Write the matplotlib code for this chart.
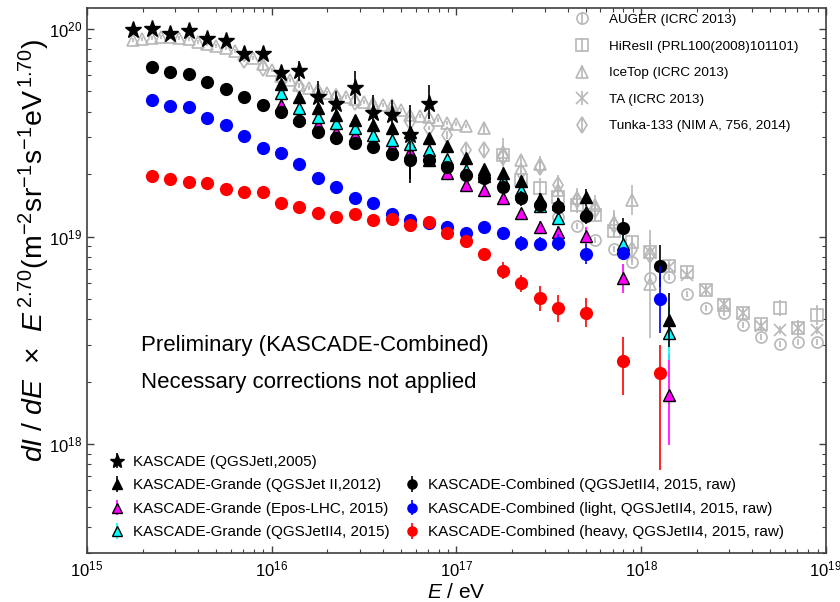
import numpy as np
import matplotlib.pyplot as plt

plt.rcParams['font.family'] = ['Liberation Sans', 'DejaVu Sans']
plt.rcParams['mathtext.fontset'] = 'custom'
plt.rcParams['mathtext.rm'] = 'Liberation Sans'
plt.rcParams['mathtext.it'] = 'Liberation Sans:italic'
plt.rcParams['mathtext.bf'] = 'Liberation Sans:bold'

# all values are log10(E/eV) and log10(dI/dE * E^2.70)
# --- gray reference measurements ---
icetop_lgE = list(np.round(np.arange(15.25, 17.06, 0.05), 2)) + [17.15, 17.25, 17.35, 17.45, 17.55, 17.65, 17.75, 17.85, 17.95, 18.05]
icetop_lgF = [19.947, 19.952, 19.957, 19.961, 19.961, 19.957, 19.952, 19.937, 19.928, 19.918,
              19.908, 19.894, 19.880, 19.860, 19.831, 19.802, 19.773, 19.754, 19.730, 19.715,
              19.706, 19.692, 19.682, 19.672, 19.663, 19.648, 19.643, 19.634, 19.634, 19.610,
              19.586, 19.581, 19.576, 19.561, 19.547, 19.542, 19.533,
              19.523, 19.407, 19.369, 19.349, 19.224, 19.186, 19.152, 19.070, 19.176, 18.771]
icetop_err = [0.01] * 37 + [0.03, 0.03, 0.03, 0.04, 0.04, 0.05, 0.05, 0.06, 0.07, 0.26]

auger_lgE = [17.55, 17.65, 17.75, 17.85, 17.95, 18.05, 18.15, 18.25, 18.35, 18.45, 18.55, 18.65, 18.75, 18.85, 18.95]
auger_lgF = [19.094, 19.051, 18.983, 18.940, 18.877, 18.800, 18.805, 18.723, 18.655, 18.631, 18.573, 18.516, 18.482, 18.492, 18.492]
auger_err = [0.015] * 15

hires_lgE = [17.25, 17.35, 17.45, 17.55, 17.65, 17.75, 17.85, 17.95, 18.05, 18.15, 18.25, 18.35, 18.45, 18.55, 18.65, 18.75, 18.85, 18.95]
hires_lgF = [19.393, 19.272, 19.234, 19.190, 19.152, 19.104, 19.027, 18.973, 18.925, 18.858, 18.829, 18.742, 18.670, 18.631, 18.578, 18.655, 18.559, 18.622]
hires_err = [0.08, 0.05, 0.05, 0.04, 0.04, 0.03, 0.03, 0.03, 0.03, 0.03, 0.03, 0.03, 0.03, 0.03, 0.03, 0.04, 0.04, 0.05]

ta_lgE = [18.05, 18.15, 18.25, 18.35, 18.45, 18.55, 18.65, 18.75, 18.85, 18.95]
ta_lgF = [18.925, 18.853, 18.814, 18.742, 18.675, 18.631, 18.569, 18.549, 18.559, 18.549]
ta_err = [0.02] * 10

tunka_lgE = list(np.round(np.arange(15.85, 18.06, 0.1), 2))
tunka_lgF = [19.851, 19.812, 19.764, 19.725, 19.696, 19.672, 19.648, 19.619, 19.595, 19.552,
             19.523, 19.489, 19.417, 19.417, 19.383, 19.311, 19.335, 19.248, 19.176, 19.128,
             19.055, 18.935, 18.911]
tunka_err = [0.01] * 11 + [0.02, 0.03, 0.03, 0.04, 0.04, 0.04, 0.05, 0.05, 0.05, 0.06, 0.06, 0.07]

# --- KASCADE / KASCADE-Grande ---
kas_lgE = list(np.round(np.arange(15.25, 16.86, 0.1), 2))
kas_lgF = [19.995, 20.000, 19.974, 19.992, 19.950, 19.942, 19.878, 19.878, 19.789, 19.798,
           19.671, 19.637, 19.717, 19.594, 19.584, 19.489, 19.639]
kas_lo = [0.01] * 9 + [0.05, 0.077, 0.065, 0.08, 0.088, 0.075, 0.23, 0.075]
kas_hi = [0.01] * 9 + [0.05, 0.077, 0.065, 0.08, 0.088, 0.075, 0.145, 0.09]

kg_lgE = list(np.round(np.arange(16.05, 17.56, 0.1), 2)) + [17.70, 18.15]
kg_lgF = [19.735, 19.671, 19.618, 19.586, 19.561, 19.537, 19.521, 19.504, 19.473, 19.436,
          19.377, 19.324, 19.305, 19.269, 19.181, 19.157, 19.189, 18.598]
kg_err = [0.01] * 12 + [0.02, 0.02, 0.03, 0.03, 0.04, 0.13]

kg4_lgE = list(np.round(np.arange(16.05, 17.56, 0.1), 2)) + [17.70, 17.90, 18.15]
cyan_lgF = [19.693, 19.618, 19.574, 19.546, 19.521, 19.489, 19.465, 19.446, 19.417, 19.372,
            19.320, 19.292, 19.272, 19.224, 19.147, 19.088, 19.118, 18.964, 18.536]
cyan_err = [0.01] * 12 + [0.02, 0.02, 0.03, 0.03, 0.03, 0.05, 0.13]
epos_lgF = [19.634, 19.577, 19.537, 19.505, 19.489, 19.457, 19.433, 19.409, 19.369, 19.305,
            19.248, 19.224, 19.184, 19.112, 19.047, 19.023, 19.004, 18.799, 18.236]
epos_lo = [0.01] * 12 + [0.02, 0.02, 0.03, 0.03, 0.04, 0.07, 0.24]
epos_hi = [0.01] * 12 + [0.02, 0.02, 0.03, 0.03, 0.04, 0.07, 0.2]

# --- KASCADE-Combined ---
comb_lgE = list(np.round(np.arange(15.35, 17.56, 0.1), 2)) + [17.70, 17.90, 18.10]
all_lgF = [19.815, 19.791, 19.782, 19.746, 19.711, 19.674, 19.634, 19.601, 19.558, 19.505,
           19.473, 19.452, 19.430, 19.398, 19.369, 19.369, 19.336, 19.296, 19.280, 19.240,
           19.184, 19.152, 19.141, 19.099, 19.040, 18.858]
all_err = [0.01] * 14 + [0.09, 0.03, 0.02, 0.02, 0.03, 0.03, 0.035, 0.035, 0.035, 0.04, 0.05, 0.1]
light_lgF = [19.658, 19.629, 19.623, 19.573, 19.537, 19.486, 19.428, 19.401, 19.348, 19.283,
             19.237, 19.187, 19.163, 19.108, 19.078, 19.064, 19.047, 19.015, 19.044, 19.018,
             18.967, 18.964, 18.970, 18.916, 18.919, 18.697]
light_err = [0.01] * 16 + [0.02, 0.03, 0.03, 0.03, 0.035, 0.035, 0.04, 0.048, 0.02, 0.16]
heavy_lgF = [19.292, 19.276, 19.264, 19.256, 19.229, 19.216, 19.216, 19.160, 19.141, 19.112,
             19.095, 19.108, 19.080, 19.084, 19.055, 19.071, 19.018, 18.980, 18.916, 18.835,
             18.774, 18.702, 18.654, 18.633, 18.401, 18.344]
heavy_lo = [0.01] * 16 + [0.02, 0.02, 0.03, 0.04, 0.04, 0.06, 0.065, 0.07, 0.165, 0.47]
heavy_hi = [0.01] * 16 + [0.02, 0.02, 0.03, 0.04, 0.04, 0.06, 0.065, 0.07, 0.115, 0.135]

gray = '#b8b8b8'

fig = plt.figure(figsize=(8.4, 6.02), dpi=100)
ax = fig.add_axes([0.1036, 0.0814, 0.8797, 0.9053])
ax.set_xscale('log')
ax.set_yscale('log')


def draw(lgE, lgF, err_lo, err_hi=None, **kw):
    E = 10 ** np.array(lgE, dtype=float)
    F = 10 ** np.array(lgF, dtype=float)
    lo = np.array(err_lo, dtype=float)
    hi = lo if err_hi is None else np.array(err_hi, dtype=float)
    yerr = [F - F * 10 ** (-lo), F * 10 ** hi - F]
    return ax.errorbar(E, F, yerr=yerr, linestyle='none', capsize=0, **kw)


gkw = dict(color=gray, mfc='none', mec=gray, mew=1.2, elinewidth=1.2, ms=8, zorder=2)
h_auger = draw(auger_lgE, auger_lgF, auger_err, marker='o', **gkw)
h_hires = draw(hires_lgE, hires_lgF, hires_err, marker='s', **gkw)
h_icetop = draw(icetop_lgE, icetop_lgF, icetop_err, marker='^', **gkw)
h_ta = draw(ta_lgE, ta_lgF, ta_err, marker='x', **gkw)
h_tunka = draw(tunka_lgE, tunka_lgF, tunka_err, marker='d', **gkw)

h_kas = draw(kas_lgE, kas_lgF, kas_lo, kas_hi, marker='*', ms=12.5, color='black',
             elinewidth=1.2, zorder=3)
h_epos = draw(kg4_lgE, epos_lgF, epos_lo, epos_hi, marker='^', ms=9, color='magenta',
              mec='black', mew=1.0, elinewidth=1.2, zorder=4)
h_cyan = draw(kg4_lgE, cyan_lgF, cyan_err, marker='^', ms=9, color='cyan',
              mec='black', mew=1.0, elinewidth=1.2, zorder=5)
h_kg = draw(kg_lgE, kg_lgF, kg_err, marker='^', ms=9, color='black',
            elinewidth=1.2, zorder=6)
h_all = draw(comb_lgE, all_lgF, all_err, marker='o', ms=9.5, color='black',
             mew=0, elinewidth=1.2, zorder=7)
h_light = draw(comb_lgE, light_lgF, light_err, marker='o', ms=9.5, color='#0000ff',
               mew=0, elinewidth=1.2, zorder=8)
h_heavy = draw(comb_lgE, heavy_lgF, heavy_lo, heavy_hi, marker='o', ms=9.5, color='#ff0000',
               mew=0, elinewidth=1.2, zorder=9)

ax.set_xlim(1e15, 1e19)
ax.set_ylim(10 ** 17.475, 10 ** 20.101)

ax.tick_params(which='both', direction='in', top=True, right=True, colors='#404040',
               labelcolor='black', labelsize=12)
ax.tick_params(which='major', length=5, width=1)
ax.tick_params(which='minor', length=3, width=0.8)
ax.tick_params(axis='x', pad=5)
for s in ax.spines.values():
    s.set_color('#404040')
    s.set_linewidth(1.2)

ax.set_xlabel(r'$E$ / eV', fontsize=15, labelpad=2)
ax.set_ylabel(r'$dI$ / $dE$  $\times$  $E^{\,2.70}$(m$^{-2}$sr$^{-1}$s$^{-1}$eV$^{\,1.70}$)',
              fontsize=20.5)
ax.yaxis.set_label_coords(-0.047, 0.556)

ax.text(0.073, 0.38, 'Preliminary (KASCADE-Combined)', transform=ax.transAxes,
        fontsize=16, va='center')
ax.text(0.073, 0.312, 'Necessary corrections not applied', transform=ax.transAxes,
        fontsize=16, va='center')

leg_top = ax.legend([h_auger, h_hires, h_icetop, h_ta, h_tunka],
                    ['AUGER (ICRC 2013)', 'HiResII (PRL100(2008)101101)', 'IceTop (ICRC 2013)',
                     'TA (ICRC 2013)', 'Tunka-133 (NIM A, 756, 2014)'],
                    loc='upper left', bbox_to_anchor=(0.6522, 1.0018), frameon=False,
                    fontsize=9.7, borderpad=0, handlelength=1.0, handletextpad=1.45,
                    labelspacing=1.05)
ax.add_artist(leg_top)

leg_a = ax.legend([h_kas, h_kg, h_epos, h_cyan],
                  ['KASCADE (QGSJetI,2005)', 'KASCADE-Grande (QGSJet II,2012)',
                   'KASCADE-Grande (Epos-LHC, 2015)', 'KASCADE-Grande (QGSJetII4, 2015)'],
                  loc='lower left', bbox_to_anchor=(0.0195, 0.011), frameon=False,
                  fontsize=11, borderpad=0, handlelength=1.0, handletextpad=0.55,
                  labelspacing=0.62, markerscale=0.8)
ax.add_artist(leg_a)

ax.legend([h_all, h_light, h_heavy],
          ['KASCADE-Combined (QGSJetII4, 2015, raw)',
           'KASCADE-Combined (light, QGSJetII4, 2015, raw)',
           'KASCADE-Combined (heavy, QGSJetII4, 2015, raw)'],
          loc='lower left', bbox_to_anchor=(0.4187, 0.011), frameon=False,
          fontsize=11, borderpad=0, handlelength=1.0, handletextpad=0.55,
          labelspacing=0.62, markerscale=0.8)

fig.savefig('out.png', dpi=100)
